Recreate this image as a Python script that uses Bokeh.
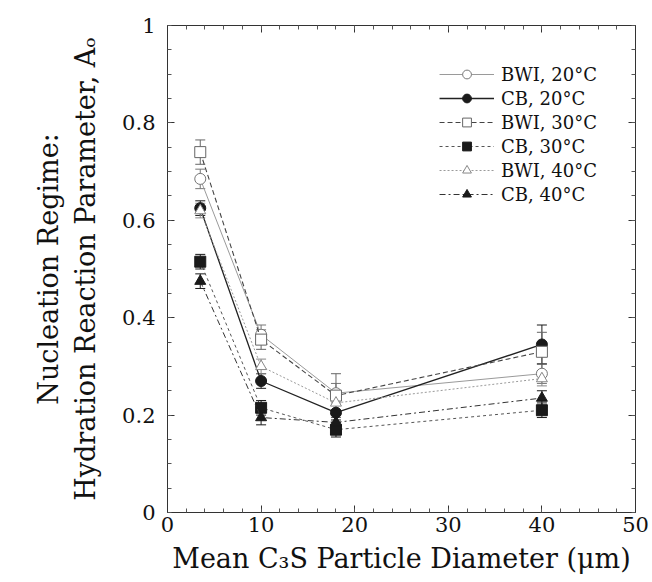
from bokeh.plotting import figure
from bokeh.models import (LinearAxis, SingleIntervalTicker, Whisker, TeeHead,
                          ColumnDataSource, Range1d)
from bokeh.embed import file_html
from bokeh.resources import INLINE

# ---- data ----
diameter = [3.5, 10, 18, 40]

bwi20 = [0.685, 0.365, 0.245, 0.285]
bwi20_err = [0.02, 0.02, 0.02, 0.02]
cb20 = [0.625, 0.27, 0.205, 0.345]
cb20_err = [0.015, 0.015, 0.015, 0.04]
bwi30 = [0.74, 0.355, 0.24, 0.33]
bwi30_err = [0.025, 0.02, 0.045, 0.04]
cb30 = [0.515, 0.215, 0.17, 0.21]
cb30_err = [0.015, 0.015, 0.015, 0.015]
bwi40 = [0.62, 0.30, 0.225, 0.275]
bwi40_err = [0.015, 0.015, 0.015, 0.015]
cb40 = [0.475, 0.195, 0.185, 0.235]
cb40_err = [0.015, 0.015, 0.015, 0.015]

x_ticks_interval = 10
y_ticks_interval = 0.2

FONT = "DejaVu Serif"

p = figure(width=652, height=582, output_backend="svg", toolbar_location=None,
           x_range=Range1d(0, 50), y_range=Range1d(0, 1),
           min_border_left=167, min_border_right=17, min_border_top=25,
           min_border_bottom=70, x_axis_type=None, y_axis_type=None)
p.grid.visible = False
p.outline_line_color = None
p.background_fill_color = "white"


def make_axis(ticker, labels=True, label=None):
    ax = LinearAxis(ticker=ticker)
    ax.major_tick_in = 7
    ax.major_tick_out = 0
    ax.minor_tick_in = 4
    ax.minor_tick_out = 0
    ax.axis_line_color = "#333333"
    ax.major_tick_line_color = "#333333"
    ax.minor_tick_line_color = "#555555"
    ax.major_label_text_font = FONT
    ax.major_label_text_font_size = "21px"
    ax.major_label_text_color = "#111111"
    if not labels:
        ax.major_label_text_color = None
    if label is not None:
        ax.axis_label = label
        ax.axis_label_text_font = FONT
        ax.axis_label_text_font_size = "27px"
        ax.axis_label_text_font_style = "normal"
        ax.axis_label_text_color = "#111111"
    return ax


xb = make_axis(SingleIntervalTicker(interval=x_ticks_interval, num_minor_ticks=5),
               True, "Mean C\u2083S Particle Diameter (\u03bcm)")
xb.major_label_standoff = 4
xb.axis_label_standoff = 8
yl = make_axis(SingleIntervalTicker(interval=y_ticks_interval, num_minor_ticks=4),
               True, "Nucleation Regime:\nHydration Reaction Parameter, A\u2092")
yl.major_label_standoff = 12
yl.axis_label_standoff = 18
xtop = make_axis(SingleIntervalTicker(interval=x_ticks_interval, num_minor_ticks=5), False)
yr = make_axis(SingleIntervalTicker(interval=y_ticks_interval, num_minor_ticks=4), False)
p.add_layout(xb, "below")
p.add_layout(yl, "left")
p.add_layout(xtop, "above")
p.add_layout(yr, "right")

series = [
    ("BWI, 20°C", bwi20, bwi20_err, "circle", "white", "#777777", "#9a9a9a", "solid", 1.0),
    ("CB, 20°C", cb20, cb20_err, "circle", "#1a1a1a", "#1a1a1a", "#222222", "solid", 1.3),
    ("BWI, 30°C", bwi30, bwi30_err, "square", "white", "#666666", "#444444", "5 3", 1.1),
    ("CB, 30°C", cb30, cb30_err, "square", "#1a1a1a", "#1a1a1a", "#555555", "3 3", 1.0),
    ("BWI, 40°C", bwi40, bwi40_err, "triangle", "white", "#888888", "#9a9a9a", "2 2", 1.0),
    ("CB, 40°C", cb40, cb40_err, "triangle", "#1a1a1a", "#1a1a1a", "#333333", "6 3 2 3", 1.0),
]

for name, vals, errs, marker, fill, mline, lcolor, dash, lw in series:
    src = ColumnDataSource(dict(
        x=diameter, y=vals,
        upper=[v + e for v, e in zip(vals, errs)],
        lower=[v - e for v, e in zip(vals, errs)],
    ))
    w = Whisker(source=src, base="x", upper="upper", lower="lower",
                line_color=mline, line_width=1,
                upper_head=TeeHead(size=10, line_color=mline, line_width=1),
                lower_head=TeeHead(size=10, line_color=mline, line_width=1))
    p.add_layout(w)
    p.line("x", "y", source=src, line_color=lcolor, line_width=lw,
           line_dash=dash, legend_label=name)
    p.scatter("x", "y", source=src, marker=marker, size=11, fill_color=fill,
              line_color=mline, line_width=1, legend_label=name)

lg = p.legend[0]
lg.location = "top_right"
lg.margin = 38
lg.padding = 2
lg.spacing = 2
lg.label_height = 22
lg.glyph_height = 22
lg.glyph_width = 55
lg.label_standoff = 7
lg.label_text_font = FONT
lg.label_text_font_size = "18px"
lg.label_text_color = "#111111"
lg.background_fill_alpha = 0
lg.border_line_color = None

open("out.html", "w").write(file_html(p, INLINE))
